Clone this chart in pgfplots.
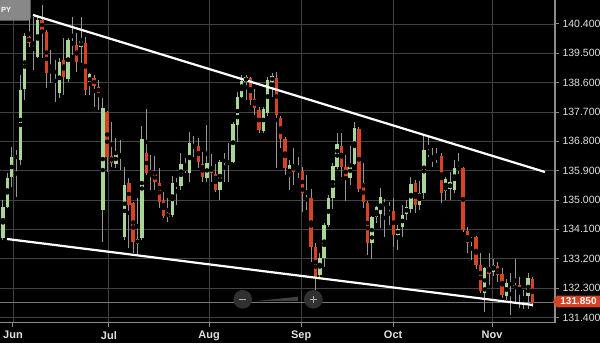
\documentclass[border=0pt]{standalone}
\usepackage{fontspec}
\setmainfont{Liberation Sans}
\usepackage{pgfplots}
\usepackage{pgfplotstable}
\pgfplotsset{compat=1.18}
\definecolor{cgreen}{RGB}{168,214,150}
\definecolor{cred}{RGB}{214,66,34}
\definecolor{cwick}{RGB}{150,150,150}
\definecolor{cgrid}{RGB}{66,66,66}
\definecolor{caxis}{RGB}{140,140,140}
\definecolor{ctext}{RGB}{225,225,225}
\definecolor{cprice}{RGB}{120,120,120}
\definecolor{cwidget}{RGB}{48,48,48}
\definecolor{cwedge}{RGB}{64,64,64}
\definecolor{csym}{RGB}{175,175,175}
\definecolor{cbox}{RGB}{136,136,136}

\pgfplotstableread{
x o h l c
1 133.84 135.00 133.77 134.79
2 134.79 135.83 134.76 135.68
3 135.71 136.63 135.40 136.32
4 136.29 136.54 135.09 136.35
5 136.23 138.84 136.08 138.38
6 138.41 140.12 138.07 140.03
9 139.39 140.68 139.36 140.52
12 138.90 139.60 138.59 138.99
14 138.28 139.36 138.13 139.23
16 138.71 139.97 138.62 139.91
19 139.69 140.62 139.20 139.88
21 138.53 138.90 138.22 138.87
24 134.69 138.13 133.71 137.82
27 136.11 136.90 135.98 136.41
29 133.87 136.01 133.77 135.46
32 133.65 135.06 133.34 133.80
33 133.84 137.27 133.77 136.87
35 135.74 136.38 135.31 135.83
39 134.48 135.06 134.33 134.60
40 134.54 135.74 134.48 135.52
42 135.43 136.44 135.31 136.11
44 135.83 137.09 135.55 136.75
48 135.68 137.30 135.55 136.14
51 135.31 136.23 135.00 136.17
52 136.14 136.44 135.55 136.26
54 136.17 137.39 136.14 137.33
55 137.30 138.31 136.78 138.16
56 138.16 138.84 138.13 138.65
57 138.62 138.84 138.07 138.77
61 137.12 137.85 137.06 137.79
62 137.67 138.77 137.58 138.68
63 138.62 138.90 138.16 138.81
67 135.71 136.23 135.31 136.08
69 135.86 136.32 135.68 135.95
71 134.97 135.77 134.69 135.06
74 132.70 133.38 132.64 133.22
75 133.22 134.30 132.95 134.23
76 134.23 135.15 134.17 135.06
77 135.06 136.14 134.73 136.04
78 136.01 137.06 135.95 136.72
81 135.68 136.66 135.46 136.11
82 136.11 137.39 136.08 137.21
86 133.68 134.51 133.19 134.48
87 134.48 134.82 134.30 134.79
88 134.57 135.37 134.14 135.09
92 133.93 134.23 133.47 134.11
93 134.17 134.85 133.87 134.54
94 134.57 135.00 134.39 134.79
95 134.73 135.71 134.60 135.49
97 134.85 135.58 134.69 135.22
98 135.22 136.96 135.03 136.54
101 136.26 136.60 136.14 136.32
103 135.28 135.71 135.00 135.65
104 135.34 135.86 135.00 135.55
105 135.31 136.23 135.22 135.98
109 133.71 133.87 133.16 133.84
112 132.15 132.95 131.57 132.92
114 132.79 133.19 132.67 133.01
117 132.06 132.58 131.93 132.46
119 132.27 133.19 131.87 132.39
122 132.06 132.76 131.66 132.61
}\greendata

\pgfplotstableread{
x o h l c
7 140.00 140.52 139.69 139.82
8 139.69 140.62 138.99 139.60
10 140.52 140.98 139.36 140.22
11 140.15 140.22 138.44 138.90
13 138.96 139.30 138.01 138.90
15 139.30 139.97 138.22 138.77
17 139.85 140.62 139.45 139.76
18 139.76 140.12 138.93 139.23
20 139.82 140.00 138.22 138.38
22 138.74 138.84 137.85 138.50
23 138.47 138.68 137.76 138.28
25 137.70 137.72 135.86 136.32
26 136.35 137.39 136.01 136.14
28 136.38 136.84 135.92 136.29
30 135.52 135.68 133.53 134.85
31 134.91 134.94 133.38 133.71
34 136.44 137.79 135.77 135.83
36 135.83 136.35 135.31 135.55
37 135.52 135.98 134.76 134.94
38 135.00 135.25 134.45 134.51
41 135.52 135.68 134.85 135.43
43 136.04 136.29 135.83 135.89
45 136.69 136.96 136.32 136.63
46 136.66 136.90 135.98 136.17
47 136.11 136.47 135.55 135.71
49 136.04 136.41 135.55 135.83
50 135.80 136.11 135.25 135.31
53 136.17 136.75 135.55 136.11
58 138.74 138.77 137.92 138.07
59 138.10 138.41 137.61 137.82
60 137.76 137.85 137.06 137.15
64 138.74 138.93 135.98 137.61
65 137.52 137.58 136.60 136.87
66 136.87 136.93 135.77 135.98
68 136.08 136.60 135.46 135.86
70 135.89 136.01 134.63 135.22
72 135.06 135.34 133.10 133.56
73 133.56 133.68 132.24 132.64
79 136.66 137.06 135.71 136.01
80 136.01 136.38 134.97 135.71
83 137.18 137.24 135.25 135.34
84 135.52 136.14 134.76 134.94
85 134.91 134.97 133.31 133.68
89 134.91 135.03 133.87 134.82
90 134.79 134.94 134.23 134.73
91 134.66 135.06 133.56 133.93
96 135.52 135.61 134.60 134.85
99 136.50 136.93 136.32 136.41
100 136.29 136.60 136.01 136.20
102 136.35 136.44 134.91 135.22
106 136.01 136.44 135.80 135.92
107 135.98 136.01 134.02 134.08
108 134.05 134.17 133.38 133.68
110 133.87 133.89 132.88 133.01
111 133.01 133.38 132.15 132.21
113 132.95 133.38 132.39 132.73
115 132.98 133.10 132.49 132.70
116 132.73 132.92 131.99 132.09
118 132.49 132.76 131.47 132.36
120 132.39 132.64 131.69 132.15
121 132.03 132.24 131.66 131.93
123 132.58 132.64 131.72 131.85
}\reddata

\begin{document}
\begin{tikzpicture}[x=1pt,y=1pt]
\useasboundingbox (0,0) rectangle (600,343);
\fill[black] (0,0) rectangle (600,343);
\begin{axis}[
  at={(0pt,20.3pt)}, anchor=south west,
  scale only axis, width=555pt, height=322.7pt,
  xmin=0.309, xmax=128.19, ymin=131.237, ymax=141.136,
  axis x line*=bottom, axis y line*=right,
  axis line style={-, caxis, line width=1.2pt},
  xtick={3.3,25.4,48.5,69.7,90.9,113.7},
  xticklabels={Jun,Jul,Aug,Sep,Oct,Nov},
  ytick={131.4,132.3,133.2,134.1,135.0,135.9,136.8,137.7,138.6,139.5,140.4},
  yticklabels={131.400,132.300,133.200,134.100,135.000,135.900,136.800,137.700,138.600,139.500,140.400},
  grid=major, major grid style={cgrid, line width=0.9pt},
  tick style={caxis, line width=1pt}, major tick length=4pt, tick align=outside,
  ticklabel style={ctext, font=\fontsize{10.5}{12}\selectfont},
  xticklabel style={font=\bfseries\fontsize{11}{12}\selectfont, yshift=-1pt},
]
\addplot[cprice, line width=0.8pt] coordinates {(0.309,131.85) (128.19,131.85)};
\addplot[only marks, mark=none, error bars/.cd, y dir=both, y explicit, error mark=none,
  error bar style={cwick, line width=1pt}]
  table[x=x, y expr={(\thisrow{h}+\thisrow{l})/2}, y error expr={(\thisrow{h}-\thisrow{l})/2}] {\greendata};
\addplot[only marks, mark=none, error bars/.cd, y dir=both, y explicit, error mark=none,
  error bar style={cwick, line width=1pt}]
  table[x=x, y expr={(\thisrow{h}+\thisrow{l})/2}, y error expr={(\thisrow{h}-\thisrow{l})/2}] {\reddata};
\addplot[only marks, mark=none, error bars/.cd, y dir=both, y explicit, error mark=none,
  error bar style={cgreen, line width=3.4pt}]
  table[x=x, y expr={(\thisrow{o}+\thisrow{c})/2}, y error expr={max(abs(\thisrow{o}-\thisrow{c})/2,0.035)}] {\greendata};
\addplot[only marks, mark=none, error bars/.cd, y dir=both, y explicit, error mark=none,
  error bar style={cred, line width=3.4pt}]
  table[x=x, y expr={(\thisrow{o}+\thisrow{c})/2}, y error expr={max(abs(\thisrow{o}-\thisrow{c})/2,0.035)}] {\reddata};
\addplot[white, line width=2.2pt] coordinates {(7.91,140.676) (125.88,135.86)};
\addplot[white, line width=2.2pt] coordinates {(1.92,133.805) (123.12,131.78)};
\end{axis}
% current price tag
\fill[cred] (553,41.5) -- (557,47.3) -- (600,47.3) -- (600,35.7) -- (557,35.7) -- cycle;
\node[white, inner sep=0pt, font=\bfseries\fontsize{10}{12}\selectfont] at (578.5,41.5) {131.850};
% zoom widget
\fill[cwidget] (242.7,43.7) circle (9.3);
\fill[cwidget] (313.3,43.7) circle (9.3);
\fill[cwedge] (256,42) -- (298,42) -- (298,46.3) -- cycle;
\draw[csym, line width=1.6pt] (239.2,43.7) -- (246.2,43.7);
\draw[csym, line width=1.6pt] (309.8,43.7) -- (316.8,43.7) (313.3,40.2) -- (313.3,47.2);
% symbol tab
\fill[cbox, rounded corners=3pt] (-5,322.3) rectangle (30.7,348);
\node[anchor=west, inner sep=0pt, white, font=\bfseries\fontsize{7.5}{9}\selectfont] at (1,333.3) {PY};
\end{tikzpicture}
\end{document}
